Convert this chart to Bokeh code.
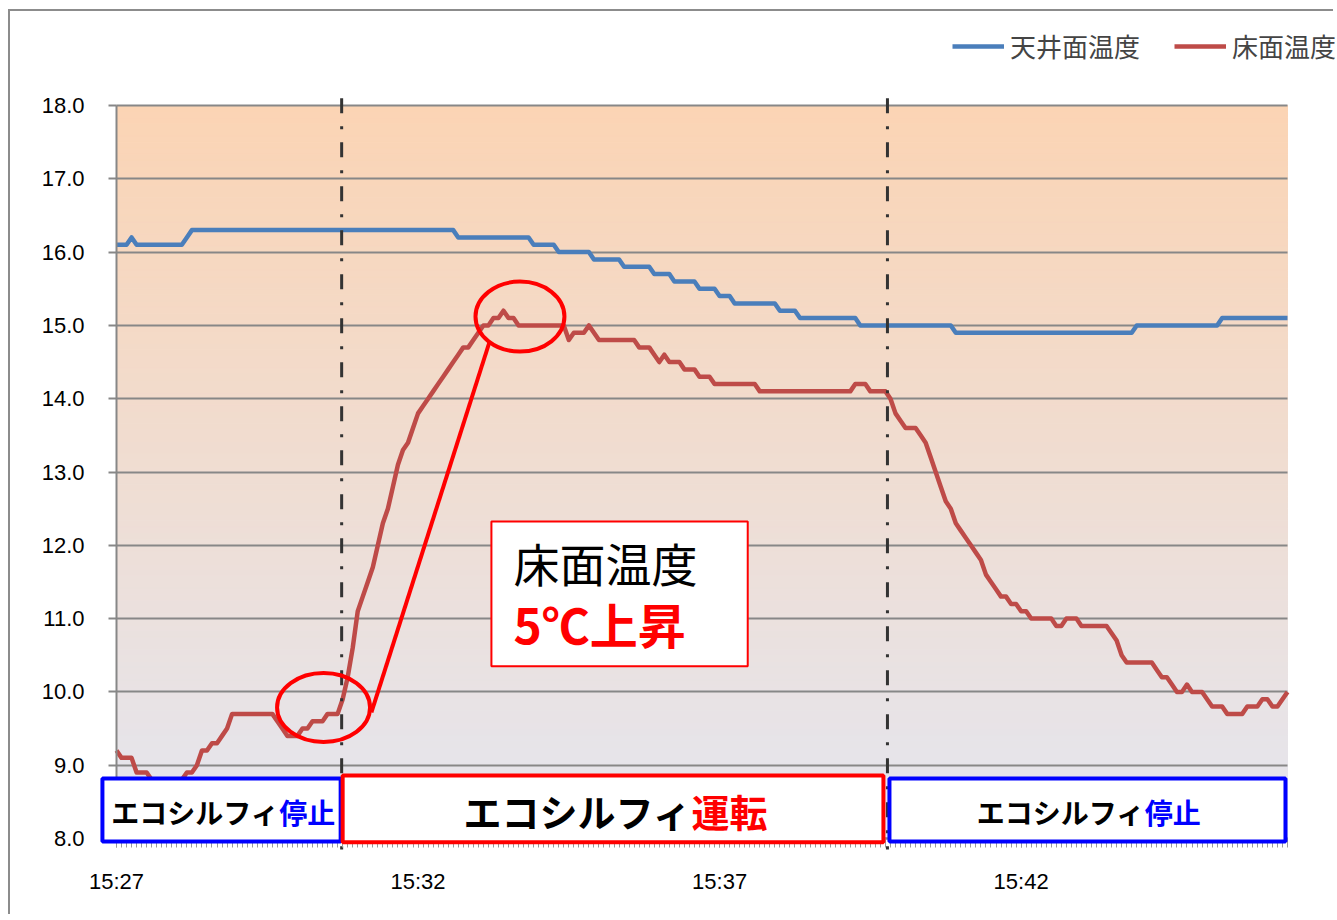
import numpy as np
from bokeh.plotting import figure
from bokeh.models import (FixedTicker, Legend, LegendItem, Label, BoxAnnotation,
                          PrintfTickFormatter)
from bokeh.embed import file_html
from bokeh.resources import INLINE

# ---------------- data ----------------
time_labels = ["15:27", "15:32", "15:37", "15:42"]
label_seconds = [0, 300, 600, 900]          # seconds after 15:27:00
sample_interval_s = 5
series_names = ["天井面温度", "床面温度"]
y_ticks = [8, 9, 10, 11, 12, 13, 14, 15, 16, 17, 18]

ceiling_temp = [
    16.1, 16.1, 16.1, 16.2, 16.1, 16.1, 16.1, 16.1, 16.1, 16.1,
    16.1, 16.1, 16.1, 16.1, 16.2, 16.3, 16.3, 16.3, 16.3, 16.3,
    16.3, 16.3, 16.3, 16.3, 16.3, 16.3, 16.3, 16.3, 16.3, 16.3,
    16.3, 16.3, 16.3, 16.3, 16.3, 16.3, 16.3, 16.3, 16.3, 16.3,
    16.3, 16.3, 16.3, 16.3, 16.3, 16.3, 16.3, 16.3, 16.3, 16.3,
    16.3, 16.3, 16.3, 16.3, 16.3, 16.3, 16.3, 16.3, 16.3, 16.3,
    16.3, 16.3, 16.3, 16.3, 16.3, 16.3, 16.3, 16.3, 16.2, 16.2,
    16.2, 16.2, 16.2, 16.2, 16.2, 16.2, 16.2, 16.2, 16.2, 16.2,
    16.2, 16.2, 16.2, 16.1, 16.1, 16.1, 16.1, 16.1, 16.0, 16.0,
    16.0, 16.0, 16.0, 16.0, 16.0, 15.9, 15.9, 15.9, 15.9, 15.9,
    15.9, 15.8, 15.8, 15.8, 15.8, 15.8, 15.8, 15.7, 15.7, 15.7,
    15.7, 15.6, 15.6, 15.6, 15.6, 15.6, 15.5, 15.5, 15.5, 15.5,
    15.4, 15.4, 15.4, 15.3, 15.3, 15.3, 15.3, 15.3, 15.3, 15.3,
    15.3, 15.3, 15.2, 15.2, 15.2, 15.2, 15.1, 15.1, 15.1, 15.1,
    15.1, 15.1, 15.1, 15.1, 15.1, 15.1, 15.1, 15.1, 15.0, 15.0,
    15.0, 15.0, 15.0, 15.0, 15.0, 15.0, 15.0, 15.0, 15.0, 15.0,
    15.0, 15.0, 15.0, 15.0, 15.0, 15.0, 15.0, 14.9, 14.9, 14.9,
    14.9, 14.9, 14.9, 14.9, 14.9, 14.9, 14.9, 14.9, 14.9, 14.9,
    14.9, 14.9, 14.9, 14.9, 14.9, 14.9, 14.9, 14.9, 14.9, 14.9,
    14.9, 14.9, 14.9, 14.9, 14.9, 14.9, 14.9, 14.9, 14.9, 14.9,
    14.9, 14.9, 14.9, 15.0, 15.0, 15.0, 15.0, 15.0, 15.0, 15.0,
    15.0, 15.0, 15.0, 15.0, 15.0, 15.0, 15.0, 15.0, 15.0, 15.0,
    15.1, 15.1, 15.1, 15.1, 15.1, 15.1, 15.1, 15.1, 15.1, 15.1,
    15.1, 15.1, 15.1, 15.1,
]

floor_temp = [
    9.2, 9.1, 9.1, 9.1, 8.9, 8.9, 8.9, 8.8, 8.8, 8.7,
    8.7, 8.7, 8.7, 8.8, 8.9, 8.9, 9.0, 9.2, 9.2, 9.3,
    9.3, 9.4, 9.5, 9.7, 9.7, 9.7, 9.7, 9.7, 9.7, 9.7,
    9.7, 9.7, 9.6, 9.5, 9.4, 9.4, 9.4, 9.5, 9.5, 9.6,
    9.6, 9.6, 9.7, 9.7, 9.7, 9.9, 10.2, 10.6, 11.1, 11.3,
    11.5, 11.7, 12.0, 12.3, 12.5, 12.8, 13.1, 13.3, 13.4, 13.6,
    13.8, 13.9, 14.0, 14.1, 14.2, 14.3, 14.4, 14.5, 14.6, 14.7,
    14.7, 14.8, 14.9, 15.0, 15.0, 15.1, 15.1, 15.2, 15.1, 15.1,
    15.0, 15.0, 15.0, 15.0, 15.0, 15.0, 15.0, 15.0, 15.0, 15.0,
    14.8, 14.9, 14.9, 14.9, 15.0, 14.9, 14.8, 14.8, 14.8, 14.8,
    14.8, 14.8, 14.8, 14.8, 14.7, 14.7, 14.7, 14.6, 14.5, 14.6,
    14.5, 14.5, 14.5, 14.4, 14.4, 14.4, 14.3, 14.3, 14.3, 14.2,
    14.2, 14.2, 14.2, 14.2, 14.2, 14.2, 14.2, 14.2, 14.1, 14.1,
    14.1, 14.1, 14.1, 14.1, 14.1, 14.1, 14.1, 14.1, 14.1, 14.1,
    14.1, 14.1, 14.1, 14.1, 14.1, 14.1, 14.1, 14.2, 14.2, 14.2,
    14.1, 14.1, 14.1, 14.1, 14.0, 13.8, 13.7, 13.6, 13.6, 13.6,
    13.5, 13.4, 13.2, 13.0, 12.8, 12.6, 12.5, 12.3, 12.2, 12.1,
    12.0, 11.9, 11.8, 11.6, 11.5, 11.4, 11.3, 11.3, 11.2, 11.2,
    11.1, 11.1, 11.0, 11.0, 11.0, 11.0, 11.0, 10.9, 10.9, 11.0,
    11.0, 11.0, 10.9, 10.9, 10.9, 10.9, 10.9, 10.9, 10.8, 10.7,
    10.5, 10.4, 10.4, 10.4, 10.4, 10.4, 10.4, 10.3, 10.2, 10.2,
    10.1, 10.0, 10.0, 10.1, 10.0, 10.0, 10.0, 9.9, 9.8, 9.8,
    9.8, 9.7, 9.7, 9.7, 9.7, 9.8, 9.8, 9.8, 9.9, 9.9,
    9.8, 9.8, 9.9, 10.0,
]

# Ecosylphy switched on / off (seconds after 15:27)
switch_times = [224, 767]
phase_left = [-14, 225, 769]
phase_right = [223, 763, 1163]
phase_unit = ["エコシルフィ", "エコシルフィ", "エコシルフィ"]
phase_state = ["停止", "運転", "停止"]

callout_title = "床面温度"
callout_value = "5℃上昇"

times = [i * sample_interval_s for i in range(len(floor_temp))]

# ---------------- styling ----------------
JP = "Noto Sans CJK JP"
NUM = "Liberation Sans"
BLUE = "#4A7EBB"
RED = "#BE4B48"
GRID = "#878787"

# the frame covers the whole canvas; the axes are placed inside it
t_end = times[-1]
px_per_s = 1171.0 / t_end
px_per_deg = 73.3
x_rng = (-(106.0) / px_per_s, t_end + 48.0 / px_per_s)
y_rng = (8 - 78.0 / px_per_deg, 18 + 94.0 / px_per_deg)

p = figure(width=1325, height=905, x_range=x_rng, y_range=y_rng,
           output_backend="svg", toolbar_location=None,
           min_border_left=0, min_border_right=0,
           min_border_top=0, min_border_bottom=0)
p.margin = (9, 0, 0, 8)
p.styles = {"border-left": "2px solid #8c8c8c", "border-top": "2px solid #8c8c8c"}
p.title.visible = False
p.outline_line_color = None
p.border_fill_color = "white"
p.background_fill_color = "white"

# gradient plot-area background
nb = 120
edges = np.linspace(8, 18, nb + 1)
top_c = np.array([251, 212, 180], dtype=float)
bot_c = np.array([228, 230, 240], dtype=float)
cols = []
for i in range(nb):
    frac = ((edges[i] + edges[i + 1]) / 2 - 8) / 10
    c = bot_c + (top_c - bot_c) * frac
    cols.append("#%02x%02x%02x" % tuple(int(round(v)) for v in c))
p.quad(left=0, right=t_end, bottom=edges[:-1], top=edges[1:],
       fill_color=cols, line_color=cols, line_width=1, level="image")

# grid
p.xgrid.visible = False
p.ygrid.ticker = FixedTicker(ticks=y_ticks)
p.ygrid.grid_line_color = GRID
p.ygrid.grid_line_width = 2
try:
    p.ygrid.cross_bounds = (0, t_end)
except Exception:
    p.ygrid.visible = False
    p.segment(x0=0, x1=t_end, y0=y_ticks, y1=y_ticks, line_color=GRID,
              line_width=2, level="underlay")

# y axis
p.yaxis.fixed_location = 0
p.yaxis.bounds = (8, 18)
p.yaxis.ticker = FixedTicker(ticks=y_ticks)
p.yaxis.formatter = PrintfTickFormatter(format="%.1f")
p.yaxis.axis_line_color = GRID
p.yaxis.axis_line_width = 2
p.yaxis.major_tick_line_color = GRID
p.yaxis.major_tick_line_width = 2
p.yaxis.major_tick_out = 8
p.yaxis.major_tick_in = 0
p.yaxis.minor_tick_line_color = None
p.yaxis.major_label_text_font = NUM
p.yaxis.major_label_text_font_size = "22px"
p.yaxis.major_label_text_color = "black"
p.yaxis.major_label_standoff = 24

# x axis
p.xaxis.fixed_location = 8
p.xaxis.bounds = (0, t_end)
p.xaxis.ticker = FixedTicker(ticks=label_seconds, minor_ticks=times)
p.xaxis.major_label_overrides = {s: l for s, l in zip(label_seconds, time_labels)}
p.xaxis.axis_line_color = GRID
p.xaxis.axis_line_width = 2
p.xaxis.major_tick_line_color = "#9a9a9a"
p.xaxis.minor_tick_line_color = "#9a9a9a"
p.xaxis.major_tick_out = 9
p.xaxis.minor_tick_out = 9
p.xaxis.major_tick_in = 0
p.xaxis.minor_tick_in = 0
p.xaxis.major_label_text_font = NUM
p.xaxis.major_label_text_font_size = "22px"
p.xaxis.major_label_text_color = "black"
p.xaxis.major_label_standoff = 21

# series
r_c = p.line(times, ceiling_temp, line_color=BLUE, line_width=4.5, line_join="round")
r_f = p.line(times, floor_temp, line_color=RED, line_width=4.5, line_join="round")

# on/off switch lines
p.segment(x0=switch_times, y0=18.1, x1=switch_times, y1=7.85,
          line_color="#333333", line_width=3, line_dash="15 13 3 13")

# highlight ellipses and connecting line
p.ellipse(x=[206, 401.4], y=[9.787, 15.12], width=[92.5, 88.5], height=[0.94, 0.955],
          fill_color=None, line_color="#FF0000", line_width=4)
p.line([253.6, 371.0], [9.72, 14.77], line_color="#FF0000", line_width=4)

# callout box
p.add_layout(BoxAnnotation(left=373, right=628, bottom=10.35, top=12.325,
                           fill_color="white", fill_alpha=1,
                           line_color="#FF0000", line_width=2, line_alpha=1))
p.add_layout(Label(x=395, y=11.775, text=callout_title, text_font=JP,
                   text_font_size="46px", text_color="black",
                   text_baseline="middle", text_align="left"))
p.add_layout(Label(x=395, y=10.946, text=callout_value, text_font=JP,
                   text_font_size="48px", text_font_style="bold", text_color="#FF0000",
                   text_baseline="middle", text_align="left"))

# phase boxes
state_color = {"停止": "#0000FF", "運転": "#FF0000"}
phase_tops = [8.82, 8.86, 8.82]
phase_bottoms = [7.96, 7.95, 7.96]
for l, r, t, b, s in zip(phase_left, phase_right, phase_tops, phase_bottoms, phase_state):
    p.add_layout(BoxAnnotation(left=l, right=r, top=t, bottom=b, fill_color="white",
                               fill_alpha=1, line_color=state_color[s], line_width=4,
                               line_alpha=1))

split_x = [162, 572, 1023]
split_y = [8.355, 8.38, 8.355]
split_size = ["28px", "38px", "28px"]
for sx, sy, fs, u, s in zip(split_x, split_y, split_size, phase_unit, phase_state):
    p.add_layout(Label(x=sx, y=sy, text=u, text_font=JP, text_font_size=fs,
                       text_font_style="bold", text_color="black",
                       text_align="right", text_baseline="middle"))
    p.add_layout(Label(x=sx, y=sy, text=s, text_font=JP, text_font_size=fs,
                       text_font_style="bold", text_color=state_color[s],
                       text_align="left", text_baseline="middle"))

# legend
legend = Legend(items=[LegendItem(label=series_names[0], renderers=[r_c]),
                       LegendItem(label=series_names[1], renderers=[r_f])],
                location=(942, 852), orientation="horizontal",
                border_line_color=None, background_fill_alpha=0,
                padding=0, margin=0, spacing=34, glyph_width=52, glyph_height=20,
                label_standoff=6, label_text_font=JP, label_text_font_size="26px",
                label_height=20)
p.add_layout(legend, "center")

open("out.html", "w").write(file_html(p, INLINE))
